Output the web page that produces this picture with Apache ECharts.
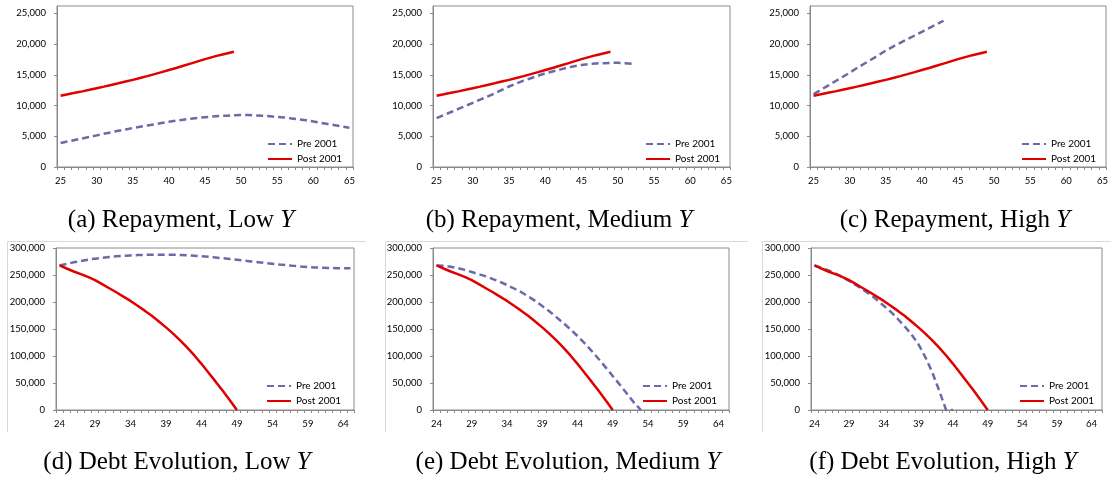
<!DOCTYPE html>
<html><head><meta charset="utf-8">
<script src="https://cdn.jsdelivr.net/npm/echarts@6/dist/echarts.min.js"></script>
<style>html,body{margin:0;padding:0;background:#fff}#c{width:1111px;height:485px}</style>
</head><body><div id="c"></div>
<script>
// ---- categories / tick labels ----
const repayAges = [25,26,27,28,29,30,31,32,33,34,35,36,37,38,39,40,41,42,43,44,45,46,47,48,49,50,51,52,53,54,55,56,57,58,59,60,61,62,63,64,65];
const debtAges = [24,25,26,27,28,29,30,31,32,33,34,35,36,37,38,39,40,41,42,43,44,45,46,47,48,49,50,51,52,53,54,55,56,57,58,59,60,61,62,63,64,65];
const repayTicks = [0,5000,10000,15000,20000,25000];
const debtTicks = [0,50000,100000,150000,200000,250000,300000];

// ---- repayment series (ages from 25) ----
const repayPost = [11600,11830,12070,12310,12560,12820,13080,13350,13620,13900,14180,14480,14790,15110,15440,15780,16120,16470,16830,17190,17550,17880,18200,18480,18750];
const repayPreLow = [3900,4150,4400,4650,4900,5150,5400,5650,5900,6100,6350,6550,6750,6950,7150,7350,7550,7700,7850,8000,8100,8200,8300,8350,8400,8450,8450,8400,8350,8250,8150,8050,7900,7750,7600,7400,7200,7000,6800,6600,6400];
const repayPreMed = [7950,8450,8950,9450,9950,10450,10950,11450,11950,12550,13100,13600,14050,14450,14850,15250,15550,15850,16150,16400,16600,16750,16850,16900,16950,16950,16900,16800];
const repayPreHigh = [11850,12550,13250,13950,14650,15350,16100,16800,17500,18200,18950,19600,20200,20800,21400,22000,22600,23200,23800];

// ---- debt series (ages from 24) ----
const debtPost = [267700,262000,256500,251500,246500,240500,233000,225500,218000,210000,202000,193000,184000,174500,164000,153000,141500,129000,115500,101000,85500,69000,52500,35500,18000,0];
const debtPreLow = [267700,270500,273500,276000,278300,280300,282000,283400,284500,285500,286300,286900,287300,287600,287700,287700,287500,287100,286500,285700,284700,283600,282400,281100,279700,278200,276700,275200,273700,272200,270800,269400,268100,266900,265800,264900,264100,263500,263000,262700,262600,262700];
const debtPreMed = [267700,267000,265300,262800,259500,255500,251500,247500,242500,237500,231500,225000,218500,210500,202000,192500,183000,172000,161000,149500,137000,124000,109500,94500,79000,63000,47000,30500,14000,0];
const debtPreHigh = [267700,263500,258500,253000,246500,239000,231000,223000,214000,204000,193000,182000,169000,155000,140000,122000,98000,70000,36000,0,0];

const captions = ['(a) Repayment, Low {i|Y}','(b) Repayment, Medium {i|Y}','(c) Repayment, High {i|Y}',
                  '(d) Debt Evolution, Low {i|Y}','(e) Debt Evolution, Medium {i|Y}','(f) Debt Evolution, High {i|Y}'];

// ---- layout ----
const panels = [
  {g:{left:57, top:6, width:296, height:161}, kind:'r', pre:repayPreLow, post:repayPost, lg:[267,139], cap:[181,220]},
  {g:{left:433,top:6, width:297, height:161}, kind:'r', pre:repayPreMed, post:repayPost, lg:[645,139], cap:[559,220]},
  {g:{left:810,top:6, width:296, height:161}, kind:'r', pre:repayPreHigh, post:repayPost, lg:[1021,139], cap:[955,220]},
  {g:{left:56, top:248,width:298, height:162}, kind:'d', pre:debtPreLow, post:debtPost, lg:[266,381], cap:[177,462]},
  {g:{left:433,top:248,width:296, height:162}, kind:'d', pre:debtPreMed, post:debtPost, lg:[642,381], cap:[568,462]},
  {g:{left:811,top:248,width:291, height:162}, kind:'d', pre:debtPreHigh, post:debtPost, lg:[1019,381], cap:[943,462]}
];

const AX = '#8a8a8a';
const PRE_C = '#6a6aa8', POST_C = '#e00000';
const tickFont = {fontFamily:'Lato', fontSize:9.5, color:'#000'};

const option = {
  animation:false,
  backgroundColor:'#fff',
  grid: panels.map(p => Object.assign({show:true, borderColor:AX, borderWidth:1, backgroundColor:'transparent'}, p.g)),
  xAxis: panels.map((p,i) => ({
    type:'category', gridIndex:i, boundaryGap:true,
    data: p.kind==='r' ? repayAges : debtAges,
    axisLine:{lineStyle:{color:AX, width:1}},
    axisTick:{show:true, interval:0, length:3, lineStyle:{color:AX}},
    axisLabel:Object.assign({interval:4, margin:9}, tickFont),
    splitLine:{show:false}
  })),
  yAxis: panels.map((p,i) => {
    const ticks = p.kind==='r' ? repayTicks : debtTicks;
    return {
      type:'value', gridIndex:i, min:0, max: p.kind==='r' ? 26200 : 300000,
      interval: p.kind==='r' ? 5000 : 50000,
      axisLine:{show:true, lineStyle:{color:AX, width:1}},
      axisTick:{show:true, length:3, lineStyle:{color:AX}, customValues:ticks},
      axisLabel:Object.assign({margin:11, customValues:ticks,
        formatter: v => (ticks.indexOf(v) >= 0 ? v.toLocaleString('en-US') : '')}, tickFont),
      splitLine:{show:false}
    };
  }),
  legend: panels.map(p => ({
    data:['Pre 2001','Post 2001'], orient:'vertical', left:p.lg[0], top:p.lg[1],
    itemWidth:24, itemHeight:10, itemGap:5, padding:0, selectedMode:false,
    itemStyle:{opacity:0},
    textStyle:{fontFamily:'Lato', fontSize:10, color:'#000', lineHeight:10}
  })),
  series: panels.flatMap((p,i) => [
    {name:'Pre 2001', type:'line', xAxisIndex:i, yAxisIndex:i, data:p.pre, symbol:'none', silent:true,
     lineStyle:{color:PRE_C, width:2.5, type:[7,4]}, itemStyle:{color:PRE_C}},
    {name:'Post 2001', type:'line', xAxisIndex:i, yAxisIndex:i, data:p.post, symbol:'none', silent:true,
     lineStyle:{color:POST_C, width:2.5, type:'solid'}, itemStyle:{color:POST_C}}
  ]),
  graphic: [
    {type:'line', shape:{x1:7.5,y1:241.5,x2:366,y2:241.5}, style:{stroke:'#d9d9d9', lineWidth:1}, silent:true},
    {type:'line', shape:{x1:7.5,y1:241.5,x2:7.5,y2:432}, style:{stroke:'#d9d9d9', lineWidth:1}, silent:true},
    {type:'line', shape:{x1:385.5,y1:241.5,x2:748,y2:241.5}, style:{stroke:'#d9d9d9', lineWidth:1}, silent:true},
    {type:'line', shape:{x1:385.5,y1:241.5,x2:385.5,y2:432}, style:{stroke:'#d9d9d9', lineWidth:1}, silent:true},
    {type:'line', shape:{x1:762.5,y1:241.5,x2:1111,y2:241.5}, style:{stroke:'#d9d9d9', lineWidth:1}, silent:true},
    {type:'line', shape:{x1:762.5,y1:241.5,x2:762.5,y2:432}, style:{stroke:'#d9d9d9', lineWidth:1}, silent:true}
  ].concat(panels.map((p,i) => ({
    type:'text', x:p.cap[0], y:p.cap[1], silent:true,
    style:{text:captions[i], textAlign:'center', textVerticalAlign:'middle',
      fontFamily:'Liberation Serif', fontSize:25, fill:'#000',
      rich:{i:{fontFamily:'Liberation Serif', fontStyle:'italic', fontSize:25, fill:'#000'}}}
  })))
};

const chart = echarts.init(document.getElementById('c'), null, {renderer:'canvas'});
chart.setOption(option);
</script>
</body></html>
